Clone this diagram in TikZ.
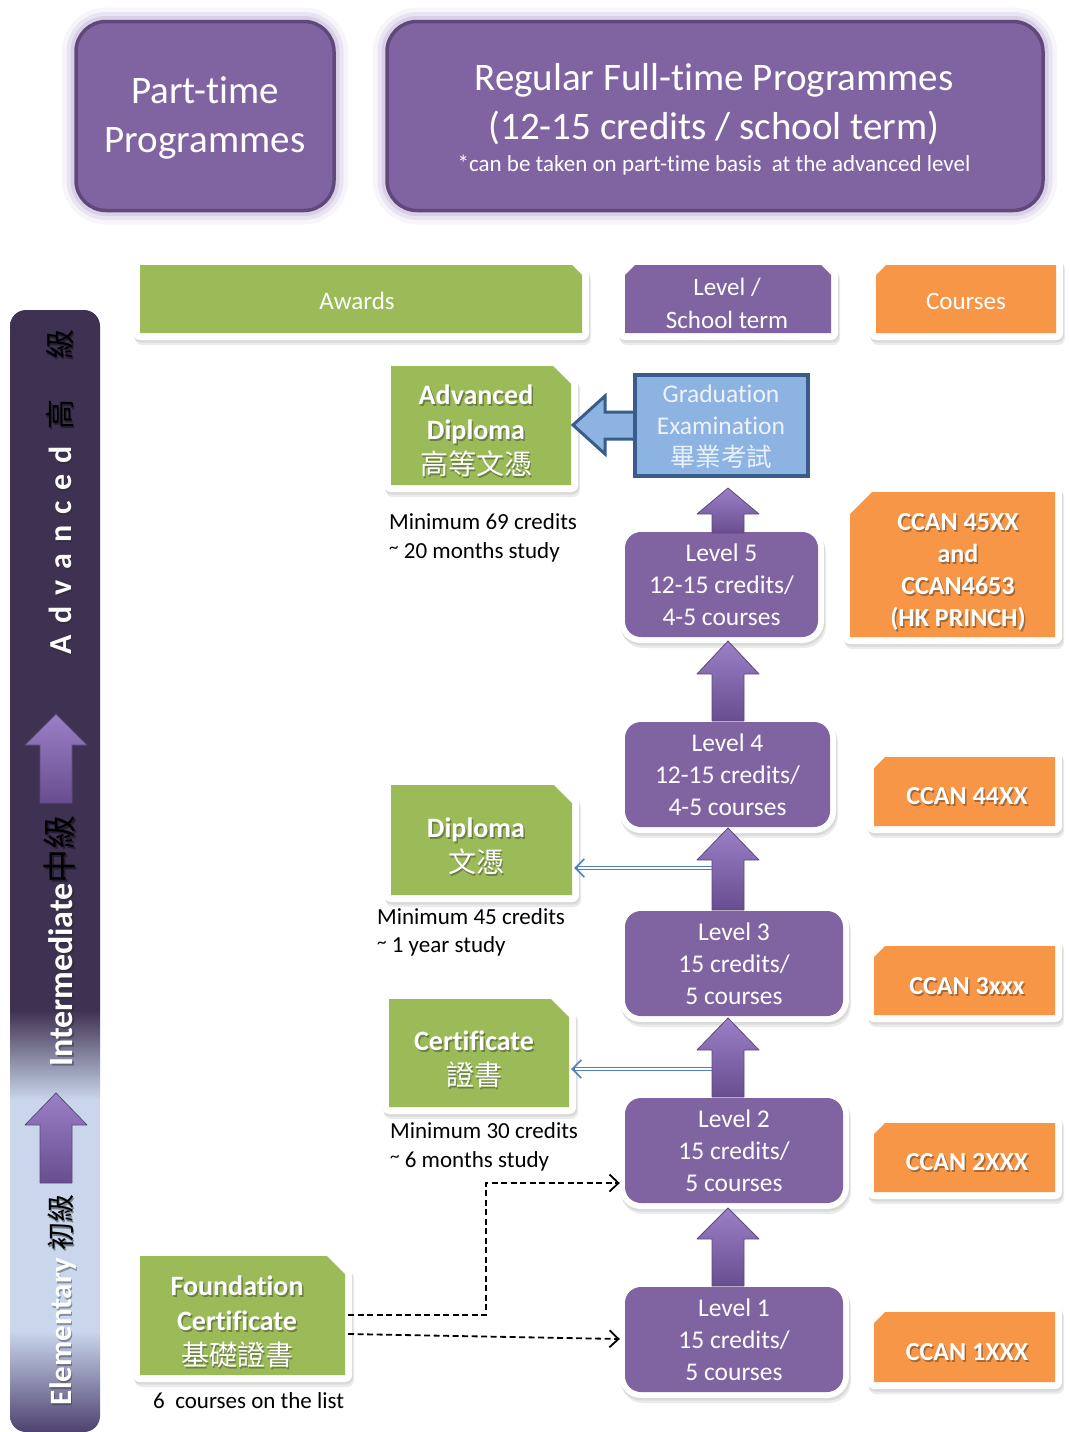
\documentclass[tikz,border=0pt]{standalone}
\usepackage{fontspec}
\setmainfont{Carlito}[Ligatures={NoCommon}]
\newfontfamily\cjk{Noto Sans CJK TC}
\usetikzlibrary{arrows.meta,calc}
\definecolor{grn}{HTML}{9BBB59}
\definecolor{org}{HTML}{F79646}
\definecolor{pur}{HTML}{8064A2}
\definecolor{purd}{HTML}{5F497A}
\definecolor{glowc}{HTML}{C9BCDD}
\definecolor{barD}{HTML}{3F3151}
\definecolor{barL}{HTML}{C9D6EC}
\definecolor{barB}{HTML}{4E4270}
\definecolor{gblue}{HTML}{8DB3E2}
\definecolor{gbord}{HTML}{385D8A}
\definecolor{lblue}{HTML}{4F81BD}
\definecolor{arrL}{HTML}{9A80C6}
\definecolor{arrD}{HTML}{684D90}
\definecolor{gtext}{HTML}{EEF3FA}
\pgfdeclareverticalshading{barsh}{100bp}{color(0bp)=(barB); color(25bp)=(barB); color(29.5bp)=(barL); color(39.8bp)=(barL); color(43.8bp)=(barD); color(100bp)=(barD)}
\newcommand\lsp{\hspace{11pt}}
\newcommand\tld{\raisebox{4.5pt}{\fontsize{19}{19}\selectfont\textasciitilde}}
% framed snipped box: fill colour, path
\newcommand\snip[2]{%
  \path[draw=black!8, line width=14pt, line join=round, xshift=2pt, yshift=-5pt] #2;
  \path[draw=black!15, line width=14pt, line join=round, xshift=1pt, yshift=-2.5pt] #2;
  \path[draw=white, line width=14pt, line join=round] #2;
  \path[fill=#1] #2;}
% level box: name, x1, y1, x2, y2, text
\newcommand\lvlbox[6]{%
  \draw[draw=black!8, line width=12pt, rounded corners=16pt] ({#2+2},{#3+5}) rectangle ({#4+2},{#5+5});
  \draw[draw=black!15, line width=12pt, rounded corners=16pt] ({#2+1},{#3+2.5}) rectangle ({#4+1},{#5+2.5});
  \draw[white, line width=12pt, rounded corners=16pt] (#2,#3) rectangle (#4,#5);
  \node[lvl, minimum width={#4-#2}, minimum height={#5-#3}] (#1) at ({(#2+#4)/2},{(#3+#5)/2}) {#6};}
% text with shadow: name, (x,y), options, text
\newcommand\stxt[4]{%
  \node[#3, text=black!85, text opacity=.4] (#1-s) at ($#2+(1.5,2)$) {#4};
  \node[#3] (#1) at #2 {#4};}
% up block arrow: cx, tip, base, bottom
\newcommand\uparr[4]{%
  \path[uparrow] (#1,#2) -- ({#1+31},#3) -- ({#1+16},#3) -- ({#1+16},#4) -- ({#1-16},#4) -- ({#1-16},#3) -- ({#1-31},#3) -- cycle;}
\begin{document}
\begin{tikzpicture}[x=1pt,y=-1pt,
  topbox/.style={draw=purd, fill=pur, line width=3.5pt, rounded corners=30pt, inner sep=0pt,
    preaction={draw=glowc, line width=28pt, draw opacity=.15},
    preaction={draw=glowc, line width=19pt, draw opacity=.3},
    preaction={draw=glowc, line width=11pt, draw opacity=.5}},
  toptxt/.style={text=white, align=center, inner sep=0pt, font=\fontsize{39}{49}\selectfont},
  smalltxt/.style={text=white, inner sep=0pt, font=\fontsize{23}{26}\selectfont},
  hdr/.style={text=white, align=center, inner sep=0pt, font=\fontsize{25}{33}\selectfont},
  boxnode/.style={inner sep=0pt},
  gtxt/.style={text=white, align=center, inner sep=0pt, font=\bfseries\fontsize{28}{35}\selectfont},
  ctxt/.style={text=white, align=center, inner sep=0pt, font=\bfseries\fontsize{26}{32}\selectfont},
  note/.style={text=black, align=left, inner sep=0pt, font=\fontsize{23}{28.5}\selectfont},
  lvl/.style={fill=pur, rounded corners=16pt, text=white, align=center, inner sep=0pt, font=\fontsize{25.5}{32}\selectfont},
  uparrow/.style={top color=arrL, bottom color=arrD, draw=purd, line width=0.8pt, line join=round},
  bartxt/.style={text=white, inner sep=0pt, rotate=90, font=\bfseries},
  bluearr/.style={draw=lblue, line width=3.2pt, -{Straight Barb[length=9pt,width=18pt,line width=1.5pt]}},
  dasharr/.style={draw=black, line width=1.8pt, dash pattern=on 6pt off 3.5pt, -{Straight Barb[length=9pt,width=17pt,line width=1.8pt]}}
]
\useasboundingbox (0,0) rectangle (1069,1432);

% ---------- top programme boxes ----------
\node[topbox, minimum width=258, minimum height=189] (ptbox) at (205,116) {};
\node[topbox, minimum width=656, minimum height=189] (ftbox) at (715,116) {};
\node[toptxt] (pt-t) at (205,118) {Part-time\\Programmes};
\node[toptxt] (ft1) at (714,80) {Regular Full-time Programmes};
\node[toptxt] (ft2) at (714,128) {(12-15 credits / school term)};
\node[smalltxt] (ft3) at (714,165) {*can be taken on part-time basis\ \ at the advanced level};

% ---------- left bar ----------
\path[shading=barsh, rounded corners=16pt] (10,310) rectangle (100,1432);
\uparr{56}{714}{745}{803}
\uparr{56}{1093}{1125}{1183}
\stxt{adv}{(60,492)}{bartxt, font=\bfseries\fontsize{32}{32}\selectfont}{A\lsp d\lsp v\lsp a\lsp n\lsp c\lsp e\lsp d\hspace{16pt}\textcolor{black}{\cjk\mdseries\fontsize{30}{30}\selectfont 高\hspace{40pt}級}}
\stxt{inter}{(60,941)}{bartxt, font=\bfseries\fontsize{34}{34}\selectfont}{Intermediate\textcolor{black}{\cjk\mdseries 中級}}
\stxt{elem}{(62,1300)}{bartxt, font=\bfseries\fontsize{31}{31}\selectfont}{Elementary \textcolor{black}{\cjk\mdseries\fontsize{28}{28}\selectfont 初級}}

% ---------- header row ----------
\snip{grn}{(140,265) -- (572,265) -- (582,275) -- (582,333) -- (140,333) -- cycle}
\node[hdr] (awards) at (357,301) {Awards};
\snip{pur}{(635,265) -- (821,265) -- (831,275) -- (831,333) -- (625,333) -- (625,275) -- cycle}
\node[hdr] (lvlhdr) at (727,303) {Level /\\School term};
\snip{org}{(886,265) -- (1056,265) -- (1056,333) -- (876,333) -- (876,275) -- cycle}
\node[hdr] (crshdr) at (966,301) {Courses};

% ---------- awards ----------
\snip{grn}{(391,366) -- (553,366) -- (571,384) -- (571,485) -- (391,485) -- cycle}
\node[boxnode, minimum width=180, minimum height=119] (advd) at (481,425.5) {};
\stxt{advd-t}{(476,431)}{gtxt}{Advanced\\Diploma\\{\cjk\mdseries 高等文憑}}
\node[note, anchor=west] (advd-n) at (389,538) {Minimum 69 credits\\\tld\ 20 months study};

\snip{grn}{(391,785) -- (554,785) -- (572,803) -- (572,895) -- (391,895) -- cycle}
\node[boxnode, minimum width=181, minimum height=110] (dip) at (481.5,840) {};
\stxt{dip-t}{(476,846)}{gtxt}{Diploma\\{\cjk\mdseries 文憑}}
\node[note, anchor=west] (dip-n) at (377,932.5) {Minimum 45 credits\\\tld\ 1 year study};

\snip{grn}{(389,999) -- (551,999) -- (569,1017) -- (569,1107) -- (389,1107) -- cycle}
\node[boxnode, minimum width=180, minimum height=108] (cert) at (479,1053) {};
\stxt{cert-t}{(474,1059.5)}{gtxt}{Certificate\\{\cjk\mdseries 證書}}
\node[note, anchor=west] (cert-n) at (390,1147) {Minimum 30 credits\\\tld\ 6 months study};

\snip{grn}{(140,1256) -- (327,1256) -- (345,1274) -- (345,1375) -- (140,1375) -- cycle}
\node[boxnode, minimum width=205, minimum height=119] (fc) at (242.5,1315.5) {};
\stxt{fc-t}{(237,1322)}{gtxt}{Foundation\\Certificate\\{\cjk\mdseries 基礎證書}}
\node[note, anchor=west] (fc-n) at (153,1401) {6\ \ courses on the list};

% ---------- graduation examination ----------
\path[fill=gblue, draw=gbord, line width=3pt, line join=miter] (573,425) -- (605,396) -- (605,412) -- (640,412) -- (640,439) -- (605,439) -- (605,454) -- cycle;
\node[draw=gbord, fill=gblue, line width=4pt, minimum width=173, minimum height=101, inner sep=0pt] (grad) at (721.5,425.5) {};
\node[text=gtext, align=center, inner sep=0pt, font=\fontsize{25.5}{32}\selectfont] (grad-t) at (721,427) {Graduation\\Examination\\{\cjk\color{white!80!gblue} 畢業考試}};

% ---------- levels ----------
\lvlbox{L5}{625}{532}{818}{637}{Level 5\\12-15 credits/\\4-5 courses}
\lvlbox{L4}{625}{722}{830}{827}{Level 4\\12-15 credits/\\4-5 courses}
\lvlbox{L3}{625}{911}{843}{1016}{Level 3\\15 credits/\\5 courses}
\lvlbox{L2}{625}{1098}{843}{1203}{Level 2\\15 credits/\\5 courses}
\lvlbox{L1}{625}{1287}{843}{1392}{Level 1\\15 credits/\\5 courses}

% ---------- blue award arrows ----------
\coordinate (s3) at (716,868);
\coordinate (s4) at (716,1069);
\draw[bluearr] (s3) -- ($(dip.east |- s3)+(2,0)$);
\draw[white, line width=1.2pt] (s3) -- ($(dip.east |- s3)+(6,0)$);
\draw[bluearr] (s4) -- ($(cert.east |- s4)+(2,0)$);
\draw[white, line width=1.2pt] (s4) -- ($(cert.east |- s4)+(6,0)$);

% ---------- level arrows ----------
\uparr{728}{488}{514}{533}
\uparr{728}{641}{674}{721}
\uparr{728}{828}{860}{910}
\uparr{728}{1018}{1050}{1097}
\uparr{728}{1208}{1239}{1286}

% ---------- courses ----------
\snip{org}{(872,492) -- (1055,492) -- (1055,637) -- (850,637) -- (850,514) -- cycle}
\node[boxnode, minimum width=205, minimum height=145] (c5) at (952.5,564.5) {};
\stxt{c5-t}{(958,572)}{ctxt}{CCAN 45XX\\and\\CCAN4653\\(HK PRINCH)}
\snip{org}{(885,757) -- (1055,757) -- (1055,826) -- (874,826) -- (874,768) -- cycle}
\node[boxnode, minimum width=181, minimum height=69] (c4) at (964.5,791.5) {};
\stxt{c4-t}{(967,796)}{ctxt}{CCAN 44XX}
\snip{org}{(885,946) -- (1055,946) -- (1055,1015) -- (874,1015) -- (874,957) -- cycle}
\node[boxnode, minimum width=181, minimum height=69] (c3) at (964.5,980.5) {};
\stxt{c3-t}{(967,986)}{ctxt}{CCAN 3xxx}
\snip{org}{(885,1123) -- (1055,1123) -- (1055,1192) -- (874,1192) -- (874,1134) -- cycle}
\node[boxnode, minimum width=181, minimum height=69] (c2) at (964.5,1157.5) {};
\stxt{c2-t}{(967,1162)}{ctxt}{CCAN 2XXX}
\snip{org}{(885,1312) -- (1055,1312) -- (1055,1382) -- (874,1382) -- (874,1323) -- cycle}
\node[boxnode, minimum width=181, minimum height=70] (c1) at (964.5,1347) {};
\stxt{c1-t}{(967,1352)}{ctxt}{CCAN 1XXX}

% ---------- dashed arrows from foundation certificate ----------
\coordinate (fd1) at ($(fc.east)+(3,-0.5)$);
\coordinate (fd2) at ($(fc.east)+(3,18.5)$);
\coordinate (fbend) at (486,1183);
\draw[dasharr] (fd1) -| (fbend) -- ($(L2.west |- fbend)+(-5,0)$);
\draw[dasharr] (fd2) -- ($(L1.west)+(-5,-0.5)$);
\end{tikzpicture}
\end{document}
